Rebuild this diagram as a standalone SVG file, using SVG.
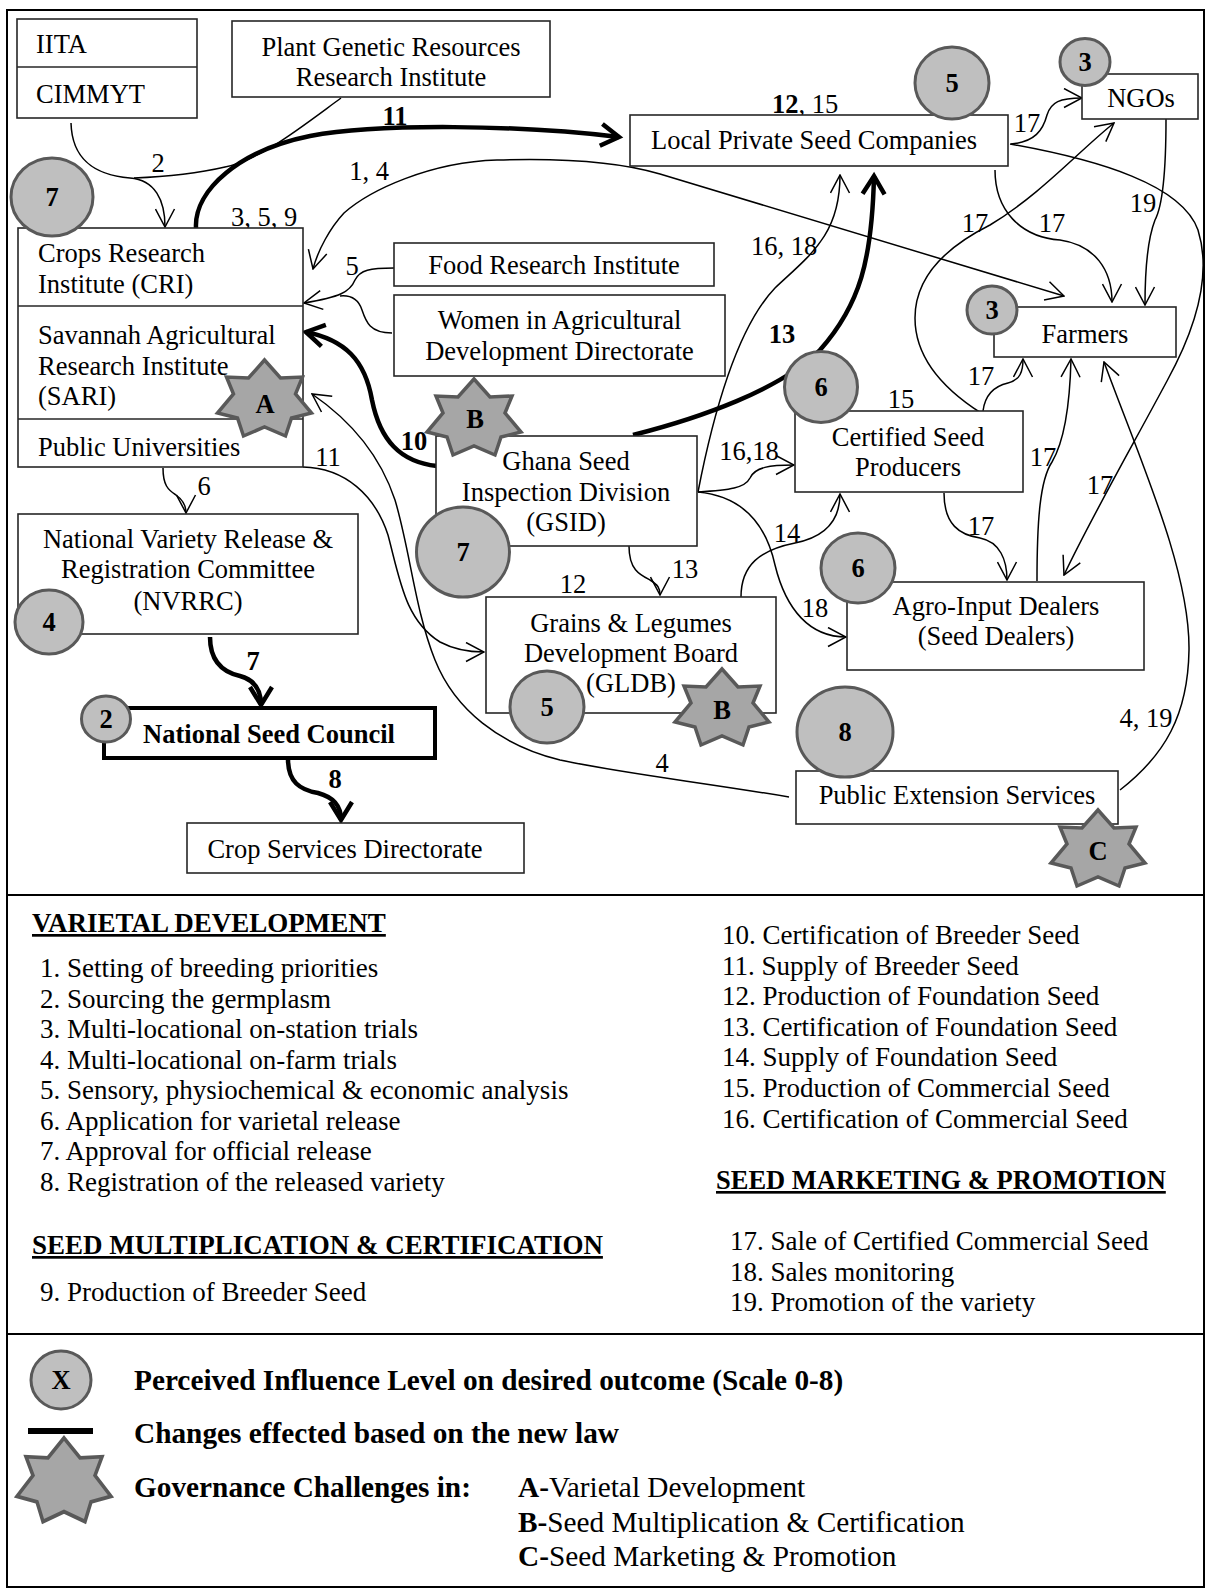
<svg xmlns="http://www.w3.org/2000/svg" xmlns:xlink="http://www.w3.org/1999/xlink" width="1206" height="1591" viewBox="0 0 1206 1591">
<style>
text{font-family:"Liberation Serif","Times New Roman",serif;font-size:26.5px;fill:#000}
.c{text-anchor:middle}
.b{font-weight:bold}
.box{fill:#fff;stroke:#262626;stroke-width:1.6}
.badge{fill:#bfbfbf;stroke:#595959;stroke-width:3}
.star{fill:#a6a6a6;stroke:#595959;stroke-width:3.5}
.ln{fill:none;stroke:#000;stroke-width:1.5}
.thk{fill:none;stroke:#000;stroke-width:4.5}
.frame{fill:none;stroke:#000;stroke-width:2}
.li{font-size:27px}
.lg{font-size:29.3px}
.num{font-weight:bold;text-anchor:middle}
</style>
<defs>
<marker id="ah" markerUnits="userSpaceOnUse" markerWidth="20" markerHeight="21" viewBox="0 0 20 21" refX="19" refY="10.5" orient="auto"><path d="M1,1 L19,10.5 L1,20" fill="none" stroke="#000" stroke-width="1.5"/></marker>
<marker id="ahs" markerUnits="userSpaceOnUse" markerWidth="20" markerHeight="21" viewBox="0 0 20 21" refX="19" refY="10.5" orient="auto-start-reverse"><path d="M1,1 L19,10.5 L1,20" fill="none" stroke="#000" stroke-width="1.5"/></marker>
<marker id="aht" markerUnits="userSpaceOnUse" markerWidth="26" markerHeight="28" viewBox="0 0 26 28" refX="21" refY="14" orient="auto"><path d="M3,3 L21,14 L3,25" fill="none" stroke="#000" stroke-width="4.5"/></marker>
<polygon id="star7" points="0,-40 16,-22 38,-23 31,-6 47,13 27,18 21,36 0,27 -21,36 -27,18 -47,13 -31,-6 -38,-23 -16,-22"/>
</defs>

<rect x="0" y="0" width="1206" height="1591" fill="#fff"/>
<rect class="frame" x="7" y="10" width="1197" height="1577"/>
<line class="frame" x1="7" y1="895" x2="1204" y2="895"/>
<line class="frame" x1="7" y1="1334" x2="1204" y2="1334"/>

<g id="connectors">
<path class="ln" d="M71,123 C72,160 95,175 130,178 C155,180 165,200 165,227" marker-end="url(#ah)"/>
<path class="ln" d="M341,98 C300,128 260,160 225,167 C195,174 160,177 134,178"/>
<text class="c" x="158" y="172">2</text>
<path class="thk" d="M196,228 C194,190 240,150 310,136 C380,123 520,125 619,137" marker-end="url(#aht)"/>
<text class="c b" x="395" y="125">11</text>
<path class="ln" d="M1064,296 L660,174 C620,162 560,158 497,160 C430,162 370,190 344,213 C330,228 318,250 313,269" marker-start="url(#ahs)" marker-end="url(#ah)"/>
<text class="c" x="369" y="180">1, 4</text>
<text class="c" x="264" y="226">3, 5, 9</text>
<path class="ln" d="M394,268 C370,268 360,270 355,280 C350,292 340,297 304,303" marker-end="url(#ah)"/>
<path class="ln" d="M392,333 C370,333 366,322 362,310 C358,298 350,295 340,296"/>
<text class="c" x="352" y="275">5</text>
<path class="thk" d="M437,466 C400,462 380,440 372,400 C365,360 345,340 306,332" marker-end="url(#aht)"/>
<text class="c b" x="414" y="450">10</text>
<path class="ln" d="M303,467 C345,468 375,495 388,535 C400,580 405,620 440,642 C455,650 470,652 484,652" marker-end="url(#ah)"/>
<text class="c" x="328" y="466">11</text>
<path class="ln" d="M789,797 C700,782 620,773 560,760 C500,745 455,710 435,660 C415,610 410,550 395,500 C380,455 350,420 312,394" marker-end="url(#ah)"/>
<text class="c" x="662" y="772">4</text>
<path class="ln" d="M163,468 C163,485 168,490 176,495 C183,500 186,505 186,513" marker-end="url(#ah)"/>
<text class="c" x="204" y="495">6</text>
<path class="thk" d="M210,637 C210,660 222,672 240,676 C255,680 261,690 261,705" marker-end="url(#aht)"/>
<text class="c b" x="253" y="670">7</text>
<path class="thk" d="M288,759 C288,782 300,790 318,793 C333,797 341,805 341,820" marker-end="url(#aht)"/>
<text class="c b" x="335" y="788">8</text>
<path class="ln" d="M629,546 C629,570 640,575 650,580 C658,585 660,588 660,595" marker-end="url(#ah)"/>
<text class="c" x="685" y="578">13</text>
<text class="c" x="573" y="593">12</text>
<path class="thk" d="M633,435 C700,418 780,390 820,350 C860,305 872,260 874,176" marker-end="url(#aht)"/>
<text class="c b" x="782" y="343">13</text>
<path class="ln" d="M698,492 C712,420 735,330 775,288 C810,255 840,235 840,175" marker-end="url(#ah)"/>
<text class="c" x="784" y="255">16, 18</text>
<path class="ln" d="M698,492 C730,490 745,488 750,478 C755,467 770,465 794,465" marker-end="url(#ah)"/>
<text class="c" x="749" y="460">16,18</text>
<path class="ln" d="M698,492 C740,496 765,520 775,565 C786,610 810,637 846,637" marker-end="url(#ah)"/>
<text class="c" x="815" y="617">18</text>
<path class="ln" d="M741,597 C741,565 760,550 795,543 C825,537 840,520 840,494" marker-end="url(#ah)"/>
<text class="c" x="787" y="542">14</text>
<text class="c" x="901" y="408">15</text>
<text class="c" x="805" y="113"><tspan font-weight="bold">12</tspan>, 15</text>
<path class="ln" d="M1011,144 C1035,142 1043,130 1047,115 C1051,102 1060,98 1082,98" marker-end="url(#ah)"/>
<text class="c" x="1027" y="132">17</text>
<path class="ln" d="M1010,144 C1100,160 1182,185 1198,230 C1212,275 1195,330 1167,381 C1130,450 1090,520 1064,575" marker-end="url(#ah)"/>
<text class="c" x="1100" y="494">17</text>
<path class="ln" d="M995,170 C995,210 1020,237 1060,240 C1095,245 1112,270 1112,302" marker-end="url(#ah)"/>
<text class="c" x="1052" y="232">17</text>
<path class="ln" d="M1166,119 C1166,170 1163,205 1155,220 C1148,238 1145,270 1145,305" marker-end="url(#ah)"/>
<text class="c" x="1143" y="212">19</text>
<path class="ln" d="M981,413 C945,390 915,360 915,318 C915,280 940,250 990,225 C1040,195 1080,150 1114,123" marker-end="url(#ah)"/>
<text class="c" x="975" y="232">17</text>
<path class="ln" d="M983,411 C985,395 995,386 1008,383 C1020,380 1023,372 1023,359" marker-end="url(#ah)"/>
<text class="c" x="981" y="385">17</text>
<path class="ln" d="M944,493 C944,525 960,535 980,538 C1000,542 1007,560 1007,580" marker-end="url(#ah)"/>
<text class="c" x="981" y="535">17</text>
<path class="ln" d="M1037,581 C1037,520 1040,480 1052,462 C1065,440 1070,400 1071,359" marker-end="url(#ah)"/>
<text class="c" x="1043" y="466">17</text>
<path class="ln" d="M1120,790 C1165,755 1188,715 1189,650 C1190,570 1140,460 1104,362" marker-end="url(#ah)"/>
<text class="c" x="1146" y="727">4, 19</text>
</g>

<g id="node-iita-cimmyt">
<rect class="box" x="17" y="19" width="180" height="99"/>
<line x1="17" y1="67" x2="197" y2="67" stroke="#262626" stroke-width="1.6"/>
<text x="36" y="53">IITA</text>
<text x="36" y="103">CIMMYT</text>
</g>
<g id="node-pgrri">
<rect class="box" x="232" y="21" width="318" height="76"/>
<text class="c" x="391" y="56">Plant Genetic Resources</text>
<text class="c" x="391" y="86">Research Institute</text>
</g>
<g id="node-cri-sari-universities">
<rect class="box" x="18" y="228" width="285" height="239"/>
<line x1="18" y1="306" x2="303" y2="306" stroke="#262626" stroke-width="1.6"/>
<line x1="18" y1="419" x2="303" y2="419" stroke="#262626" stroke-width="1.6"/>
<text x="38" y="262">Crops Research</text>
<text x="38" y="293">Institute (CRI)</text>
<text x="38" y="344">Savannah Agricultural</text>
<text x="38" y="374.5">Research Institute</text>
<text x="38" y="405">(SARI)</text>
<text x="38" y="456">Public Universities</text>
<ellipse class="badge" cx="52" cy="197" rx="41" ry="39"/>
<text class="num" x="52" y="206">7</text>
<use href="#star7" class="star" transform="translate(264.5,400)"/>
<text class="num" x="265" y="413">A</text>
</g>
<g id="node-food-research">
<rect class="box" x="394" y="243" width="320" height="43"/>
<text class="c" x="554" y="274">Food Research Institute</text>
</g>
<g id="node-wiadd">
<rect class="box" x="394" y="295" width="331" height="81"/>
<text class="c" x="559.5" y="329">Women in Agricultural</text>
<text class="c" x="559.5" y="360">Development Directorate</text>
</g>
<g id="node-gsid">
<rect class="box" x="436" y="436" width="261" height="110"/>
<text class="c" x="566" y="470">Ghana Seed</text>
<text class="c" x="566" y="500.5">Inspection Division</text>
<text class="c" x="566" y="531">(GSID)</text>
<ellipse class="badge" cx="463" cy="552" rx="46.5" ry="45"/>
<text class="num" x="463" y="561">7</text>
<use href="#star7" class="star" transform="translate(474,419)"/>
<text class="num" x="475" y="428">B</text>
</g>
<g id="node-gldb">
<rect class="box" x="486" y="597" width="290" height="116"/>
<text class="c" x="631" y="632">Grains &amp; Legumes</text>
<text class="c" x="631" y="662">Development Board</text>
<text class="c" x="631" y="692">(GLDB)</text>
<ellipse class="badge" cx="547" cy="707" rx="37" ry="36"/>
<text class="num" x="547" y="716">5</text>
<use href="#star7" class="star" transform="translate(722,709)"/>
<text class="num" x="722" y="719">B</text>
</g>
<g id="node-nvrrc">
<rect class="box" x="18" y="514" width="340" height="120"/>
<text class="c" x="188" y="548">National Variety Release &amp;</text>
<text class="c" x="188" y="578">Registration Committee</text>
<text class="c" x="188" y="610">(NVRRC)</text>
<ellipse class="badge" cx="49" cy="622" rx="34" ry="32"/>
<text class="num" x="49" y="631">4</text>
</g>
<g id="node-nsc">
<rect x="104" y="708" width="331" height="50" fill="#fff" stroke="#000" stroke-width="4"/>
<text class="c b" x="269" y="743">National Seed Council</text>
<ellipse class="badge" cx="106" cy="719" rx="24.5" ry="23"/>
<text class="num" x="106" y="728">2</text>
</g>
<g id="node-csd">
<rect class="box" x="187" y="823" width="337" height="50"/>
<text class="c" x="345" y="858">Crop Services Directorate</text>
</g>
<g id="node-lpsc">
<rect class="box" x="630" y="115" width="378" height="51"/>
<text class="c" x="814" y="149">Local Private Seed Companies</text>
<ellipse class="badge" cx="952" cy="83" rx="37" ry="36"/>
<text class="num" x="952" y="92">5</text>
</g>
<g id="node-ngos">
<rect class="box" x="1082" y="74" width="116" height="45"/>
<text class="c" x="1141" y="107">NGOs</text>
<ellipse class="badge" cx="1085" cy="62" rx="25" ry="23.5"/>
<text class="num" x="1085" y="71">3</text>
</g>
<g id="node-farmers">
<rect class="box" x="994" y="307" width="182" height="50"/>
<text class="c" x="1085" y="343">Farmers</text>
<ellipse class="badge" cx="992" cy="310" rx="25" ry="24"/>
<text class="num" x="992" y="319">3</text>
</g>
<g id="node-csp">
<rect class="box" x="795" y="411" width="228" height="81"/>
<text class="c" x="908" y="446">Certified Seed</text>
<text class="c" x="908" y="476">Producers</text>
<ellipse class="badge" cx="821" cy="387" rx="36.5" ry="35.5"/>
<text class="num" x="821" y="396">6</text>
</g>
<g id="node-agro">
<rect class="box" x="847" y="582" width="297" height="88"/>
<text class="c" x="996" y="615">Agro-Input Dealers</text>
<text class="c" x="996" y="645">(Seed Dealers)</text>
<ellipse class="badge" cx="858" cy="568" rx="37" ry="35"/>
<text class="num" x="858" y="577">6</text>
</g>
<g id="node-pes">
<rect class="box" x="796" y="771" width="322" height="53"/>
<text class="c" x="957" y="804">Public Extension Services</text>
<ellipse class="badge" cx="845" cy="732" rx="48" ry="45"/>
<text class="num" x="845" y="741">8</text>
<use href="#star7" class="star" transform="translate(1098,850)"/>
<text class="num" x="1098" y="860">C</text>
</g>

<g id="steps">
<text class="b li" x="32" y="932" text-decoration="underline">VARIETAL DEVELOPMENT</text>
<text class="li" x="40" y="977">1. Setting of breeding priorities</text>
<text class="li" x="40" y="1007.5">2. Sourcing the germplasm</text>
<text class="li" x="40" y="1038">3. Multi-locational on-station trials</text>
<text class="li" x="40" y="1068.5">4. Multi-locational on-farm trials</text>
<text class="li" x="40" y="1099">5. Sensory, physiochemical &amp; economic analysis</text>
<text class="li" x="40" y="1129.5">6. Application for varietal release</text>
<text class="li" x="40" y="1160">7. Approval for official release</text>
<text class="li" x="40" y="1190.5">8. Registration of the released variety</text>
<text class="b li" x="32" y="1254" text-decoration="underline">SEED MULTIPLICATION &amp; CERTIFICATION</text>
<text class="li" x="40" y="1301">9. Production of Breeder Seed</text>
<text class="li" x="722" y="944">10. Certification of Breeder Seed</text>
<text class="li" x="722" y="974.5">11. Supply of Breeder Seed</text>
<text class="li" x="722" y="1005">12. Production of Foundation Seed</text>
<text class="li" x="722" y="1035.5">13. Certification of Foundation Seed</text>
<text class="li" x="722" y="1066">14. Supply of Foundation Seed</text>
<text class="li" x="722" y="1096.5">15. Production of Commercial Seed</text>
<text class="li" x="722" y="1127.5">16. Certification of Commercial Seed</text>
<text class="b" x="716" y="1189" font-size="26.7" text-decoration="underline">SEED MARKETING &amp; PROMOTION</text>
<text class="li" x="730" y="1250">17. Sale of Certified Commercial Seed</text>
<text class="li" x="730" y="1281">18. Sales monitoring</text>
<text class="li" x="730" y="1311">19. Promotion of the variety</text>
</g>

<g id="legend">
<ellipse class="badge" cx="61" cy="1380" rx="30" ry="29"/>
<text class="num" x="61" y="1389">X</text>
<text class="b lg" x="134" y="1390">Perceived Influence Level on desired outcome (Scale 0-8)</text>
<rect x="28" y="1428" width="65" height="6" fill="#000"/>
<text class="b lg" x="134" y="1443">Changes effected based on the new law</text>
<use href="#star7" class="star" transform="translate(64,1482) scale(1,1.1)"/>
<text class="b lg" x="134" y="1497">Governance Challenges in:</text>
<text class="lg" x="518" y="1497"><tspan font-weight="bold">A-</tspan>Varietal Development</text>
<text class="lg" x="518" y="1532"><tspan font-weight="bold">B-</tspan>Seed Multiplication &amp; Certification</text>
<text class="lg" x="518" y="1566"><tspan font-weight="bold">C-</tspan>Seed Marketing &amp; Promotion</text>
</g>
</svg>
